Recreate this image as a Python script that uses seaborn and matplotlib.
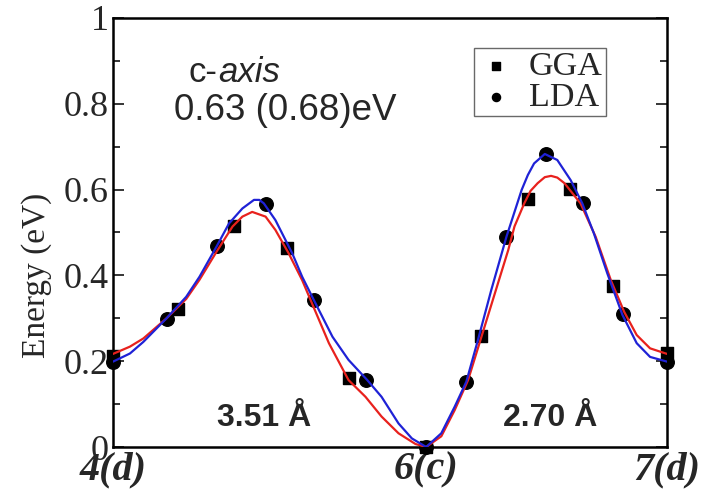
import matplotlib
matplotlib.use("Agg")
import matplotlib.pyplot as plt
import seaborn as sns
import pandas as pd

# energy barrier along the c-axis path 4(d) -> 6(c) -> 7(d), x in Angstrom

# calculated points
gga_x = [0.0, 0.725, 1.36, 1.95, 2.64, 3.51, 4.12, 4.65, 5.12, 5.61, 6.21]
gga_e = [0.212, 0.322, 0.515, 0.464, 0.161, 0.0, 0.259, 0.578, 0.601, 0.375, 0.219]
lda_x = [0.0, 0.61, 1.17, 1.71, 2.25, 2.84, 3.51, 3.96, 4.40, 4.85, 5.27, 5.72, 6.21]
lda_e = [0.198, 0.298, 0.469, 0.566, 0.343, 0.156, 0.0, 0.152, 0.49, 0.683, 0.569, 0.31, 0.198]

# fitted curves
gga_curve_x = [0, 0.19, 0.34, 0.60, 0.82, 0.97, 1.16, 1.34, 1.45, 1.56, 1.71, 1.82, 1.97,
               2.12, 2.23, 2.42, 2.64, 2.83, 3.01, 3.20, 3.39, 3.51, 3.68, 3.83, 3.98, 4.13,
               4.28, 4.43, 4.50, 4.61, 4.68, 4.76, 4.84, 4.91, 4.98, 5.06, 5.24, 5.41, 5.58,
               5.73, 5.87, 6.02, 6.21]
gga_curve_e = [0.217, 0.234, 0.253, 0.30, 0.345, 0.39, 0.455, 0.514, 0.537, 0.548, 0.537,
               0.506, 0.451, 0.389, 0.335, 0.242, 0.156, 0.117, 0.071, 0.032, 0.007, 0.0,
               0.025, 0.086, 0.156, 0.257, 0.358, 0.459, 0.514, 0.568, 0.597, 0.615, 0.629,
               0.632, 0.628, 0.615, 0.568, 0.49, 0.389, 0.315, 0.261, 0.23, 0.217]
lda_curve_x = [0, 0.19, 0.34, 0.60, 0.82, 0.97, 1.16, 1.30, 1.45, 1.58, 1.64, 1.69, 1.82,
               2.01, 2.12, 2.25, 2.46, 2.64, 2.85, 3.01, 3.20, 3.35, 3.51, 3.68, 3.83, 3.96,
               4.09, 4.24, 4.41, 4.58, 4.65, 4.72, 4.84, 4.98, 5.13, 5.26, 5.39, 5.54, 5.71,
               5.87, 6.02, 6.21]
lda_curve_e = [0.199, 0.218, 0.245, 0.30, 0.35, 0.397, 0.467, 0.521, 0.556, 0.576, 0.576,
               0.568, 0.529, 0.451, 0.397, 0.343, 0.257, 0.203, 0.156, 0.117, 0.055, 0.020,
               0.0, 0.032, 0.094, 0.152, 0.249, 0.366, 0.49, 0.599, 0.634, 0.661, 0.683,
               0.669, 0.622, 0.568, 0.498, 0.405, 0.308, 0.242, 0.21, 0.199]

site_pos = [0.0, 3.51, 6.21]
site_labels = ["4(d)", "6(c)", "7(d)"]
y_ticks = [0, 0.2, 0.4, 0.6, 0.8, 1.0]
y_labels = ["0", "0.2", "0.4", "0.6", "0.8", "1"]

sns.set_style("white")
plt.rcParams["font.family"] = ["Liberation Serif", "DejaVu Serif"]

fig = plt.figure(figsize=(7.09, 4.93), dpi=100)
ax = fig.add_axes([0.1594, 0.0933, 0.7814, 0.8702])

df_gga = pd.DataFrame({"x": gga_curve_x, "e": gga_curve_e})
df_lda = pd.DataFrame({"x": lda_curve_x, "e": lda_curve_e})
sns.lineplot(data=df_gga, x="x", y="e", color="#e8211d", lw=1.6, sort=False,
             estimator=None, ax=ax, zorder=3)
sns.lineplot(data=df_lda, x="x", y="e", color="#1f22d6", lw=1.6, sort=False,
             estimator=None, ax=ax, zorder=4)

sq = ax.scatter(gga_x, gga_e, marker="s", s=75, color="black", zorder=2, label="GGA",
                clip_on=False)
ci = ax.scatter(lda_x, lda_e, marker="o", s=95, color="black", zorder=2, label="LDA",
                clip_on=False)

ax.set_xlim(0, 6.21)
ax.set_ylim(0, 1)
ax.set_xticks(site_pos)
ax.set_xticklabels(site_labels, fontsize=29, fontweight="bold", fontstyle="italic")
ax.tick_params(axis="x", length=0, pad=3)
ax.set_yticks(y_ticks)
ax.set_yticklabels(y_labels, fontsize=26)
ax.set_yticks([0.1, 0.3, 0.5, 0.7, 0.9], minor=True)
ax.tick_params(axis="y", which="both", direction="in", left=True, right=True,
               width=1.3, pad=3)
ax.tick_params(axis="y", which="major", length=8)
ax.tick_params(axis="y", which="minor", length=5)
ax.set_xlabel("")
ax.set_ylabel("Energy (eV)", fontsize=24)
ax.yaxis.set_label_coords(-0.11, 0.40)
for s in ax.spines.values():
    s.set_visible(True)
    s.set_linewidth(1.8)
    s.set_color("black")

# legend with markers only
leg = ax.legend(handles=[sq, ci], loc="upper right", bbox_to_anchor=(0.89, 0.93),
                fontsize=24.5, frameon=True, fancybox=False, handletextpad=0.4,
                borderpad=0.1, labelspacing=0.0, handlelength=1.1, markerscale=0.6,
                borderaxespad=0)
leg.get_frame().set_edgecolor("#444444")
leg.get_frame().set_linewidth(1.0)

sans = ["Liberation Sans", "DejaVu Sans"]
t1 = ax.text(0.137, 0.851, "c-", transform=ax.transAxes, fontsize=25, family=sans,
             ha="left", va="baseline")
ax.annotate("axis", xy=(1, 0), xycoords=t1, fontsize=25, family=sans, style="italic",
            ha="left", va="bottom")
ax.text(0.110, 0.762, "0.63 (0.68)eV", transform=ax.transAxes, fontsize=26.5, family=sans,
        ha="left", va="baseline")
ax.text(1.69, 0.068, "3.51 Å", fontsize=23, family=sans, fontweight="bold",
        ha="center", va="center")
ax.text(4.90, 0.068, "2.70 Å", fontsize=23, family=sans, fontweight="bold",
        ha="center", va="center")

fig.savefig("out.png", dpi=100)
